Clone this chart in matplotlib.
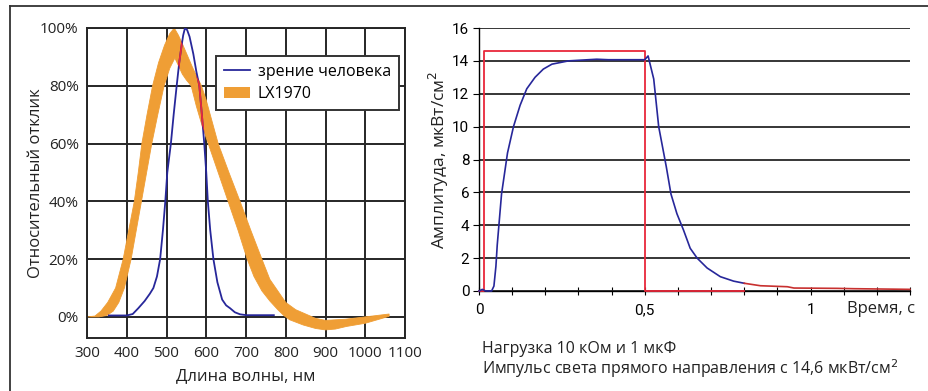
import matplotlib
matplotlib.use("Agg")
import matplotlib.pyplot as plt
from matplotlib.lines import Line2D
from matplotlib.patches import Patch

plt.rcParams['font.family'] = ['Open Sans', 'DejaVu Sans']

# Left chart: spectral response
eye_nm = [355, 400, 415, 429, 445, 458, 467, 476, 484, 491, 497, 502, 511, 518,
          525.6, 532, 538, 542, 546.5, 552, 558, 567.5, 575, 582.6, 589, 595,
          600, 604, 610, 618, 628, 640, 650, 660, 672, 685, 701, 770]
eye_pct = [0.5, 0.5, 1, 3, 5.5, 8, 10, 14, 20, 30, 40, 50, 60, 70,
           80, 88, 94, 97.5, 100, 99.3, 97, 91, 85, 80, 70, 60,
           50, 40, 30, 20, 12, 6, 4, 3, 1.6, 0.9, 0.6, 0.6]

lx_hi_nm = [300, 320, 335, 352, 372, 391, 405, 419, 429, 438, 451, 465, 480, 495,
            508, 519.5, 530, 540, 551, 565, 577, 588, 600, 610, 620, 630, 657,
            685, 712, 740, 760, 780, 800, 825, 850, 875, 900, 950, 1000, 1030, 1060]
lx_hi_pct = [0, 0.3, 2, 5, 10, 20, 30, 40, 50, 60, 70, 80, 88, 94,
             98, 100, 97.5, 94.5, 91, 86.5, 83, 80, 75, 70, 65, 60, 50,
             40, 30, 20, 13, 9, 5, 2.5, 1, -0.5, -1.2, -0.8, 0, 0.5, 1.0]
lx_lo_nm = [300, 330, 350, 366, 380, 394, 411, 424, 437, 450, 463, 478, 494, 508,
            521, 530, 540, 550, 562, 575, 590, 605, 630, 655, 680, 703, 720,
            740, 760, 780, 795, 810, 844, 875, 900, 925, 953, 1000, 1030, 1060]
lx_lo_pct = [0, 0, 0.5, 2, 5, 10, 20, 30, 40, 50, 60, 70, 80, 86,
             89.6, 87, 84, 82, 80, 73, 66, 60, 50, 40, 30, 20, 14,
             9, 5.5, 2.5, 0.5, -1, -2.8, -4, -4.5, -4.2, -3.3, -2.2, -1, 0.2]

nm_ticks = [300, 400, 500, 600, 700, 800, 900, 1000, 1100]
pct_ticks = [0, 20, 40, 60, 80, 100]

# Right chart: pulse response
t_meas = [0, 0.01, 0.02, 0.038, 0.045, 0.051, 0.055, 0.068, 0.086, 0.104, 0.124,
          0.144, 0.169, 0.194, 0.22, 0.245, 0.27, 0.355, 0.39, 0.5, 0.51, 0.527,
          0.542, 0.565, 0.579, 0.597, 0.617, 0.637, 0.658, 0.688, 0.728, 0.768, 0.8]
v_meas = [0, 0.1, 0, 0, 0.3, 1.5, 2.8, 5.9, 8.4, 10, 11.3,
          12.3, 13.0, 13.5, 13.8, 13.9, 14.0, 14.1, 14.07, 14.07, 14.3, 12.9,
          10, 7.55, 5.9, 4.7, 3.7, 2.6, 2.0, 1.4, 0.87, 0.6, 0.47]
t_tail = [0.8, 0.849, 0.93, 0.95, 1.08, 1.13, 1.3]
v_tail = [0.47, 0.32, 0.26, 0.18, 0.16, 0.14, 0.1]
t_pulse = [0, 0.015, 0.015, 0.5, 0.5, 0.8]
v_pulse = [0, 0, 14.6, 14.6, 0, 0]
amp_ticks = [0, 2, 4, 6, 8, 10, 12, 14, 16]
time_ticks = [0, 0.5, 1]
time_labels = ['0', '0,5', '1']

BLUE = '#27279a'
ORANGE = '#ef9e35'
RED = '#e8283a'
GRID = '#262626'

fig = plt.figure(figsize=(9.29, 3.91), dpi=100)

# outer frame lines
fig.add_artist(Line2D([10 / 929, 1], [1 - 6 / 391, 1 - 6 / 391], transform=fig.transFigure,
                      color='#333333', lw=1.3))
fig.add_artist(Line2D([10 / 929, 10 / 929], [0, 1 - 6 / 391], transform=fig.transFigure,
                      color='#333333', lw=1.3))

# ---- left chart
ax1 = fig.add_axes([87 / 929, 1 - 338 / 391, 318 / 929, 310 / 391])
ax1.set_xlim(300, 1100)
ax1.set_ylim(-7.3, 100)
ax1.set_xticks(nm_ticks)
ax1.set_yticks(pct_ticks)
ax1.set_yticklabels([f'{p}%' for p in pct_ticks])
ax1.grid(True, color=GRID, lw=1.4)
ax1.set_axisbelow(True)
ax1.tick_params(length=0, labelsize=11, pad=6, colors='#222222')
for s in ax1.spines.values():
    s.set_color(GRID)
    s.set_linewidth(1.4)

band = ax1.fill(lx_hi_nm + lx_lo_nm[::-1], lx_hi_pct + lx_lo_pct[::-1],
                color=ORANGE, lw=0.6, ec=ORANGE, zorder=2)[0]
ax1.plot(eye_nm, eye_pct, color=BLUE, lw=1.3, zorder=3)
red_part, = ax1.plot(eye_nm, eye_pct, color=RED, lw=1.3, zorder=4)
red_part.set_clip_path(band)

ax1.set_xlabel('Длина волны, нм', fontsize=12, labelpad=5, color='#222222')
ax1.set_ylabel('Относительный отклик', fontsize=12, labelpad=-3, color='#222222')

leg = ax1.legend(handles=[Line2D([], [], color=BLUE, lw=1.3),
                          Patch(facecolor=ORANGE, edgecolor='none')],
                 labels=['зрение человека', 'LX1970'],
                 loc='upper left', bbox_to_anchor=(0.406, 0.91), borderaxespad=0,
                 fontsize=11.5, fancybox=False, framealpha=1, edgecolor='#333333',
                 handlelength=1.6, handletextpad=0.5, borderpad=0.5, labelspacing=0.4)
leg.get_frame().set_linewidth(1.4)

# ---- right chart
ax2 = fig.add_axes([479 / 929, 1 - 291 / 391, 431 / 929, 263 / 391])
ax2.set_xlim(0, 1.3)
ax2.set_ylim(0, 16)
ax2.set_yticks(amp_ticks)
ax2.set_xticks(time_ticks)
ax2.set_xticklabels(time_labels)
ax2.set_xticks([i / 10 for i in range(1, 14)], minor=True)
ax2.yaxis.grid(True, color=GRID, lw=1.3)
ax2.set_axisbelow(True)
for side in ['top', 'right']:
    ax2.spines[side].set_visible(False)
ax2.spines['left'].set_linewidth(1.0)
ax2.spines['bottom'].set_linewidth(1.0)
ax2.tick_params(axis='y', length=4, width=0.8, labelsize=11, pad=3)
ax2.tick_params(axis='x', which='both', direction='inout', length=6, width=0.8,
                labelsize=11, pad=6)
for lab in ax2.get_xticklabels() + ax2.get_yticklabels():
    lab.set_family(['Liberation Sans Narrow', 'Roboto', 'DejaVu Sans'])

ax2.plot(t_pulse, v_pulse, color=RED, lw=1.3, zorder=3, clip_on=False)
ax2.plot(t_meas, v_meas, color=BLUE, lw=1.2, zorder=4, clip_on=False)
ax2.plot(t_tail, v_tail, color='#c8302f', lw=1.2, zorder=4, clip_on=False)

ax2.set_ylabel('Амплитуда, мкВт/см$^2$', fontsize=12.5, labelpad=1, color='#222222')
fig.text(915 / 929, 1 - 309 / 391, 'Время, с', fontsize=12, ha='right', va='center',
         color='#222222')
fig.text(482 / 929, 1 - 349 / 391, 'Нагрузка 10 кОм и 1 мкФ', fontsize=11.5,
         ha='left', va='center', color='#222222')
fig.text(482 / 929, 1 - 369 / 391, 'Импульс света прямого направления с 14,6 мкВт/см$^2$',
         fontsize=11.5, ha='left', va='center', color='#222222')

fig.savefig('out.png', dpi=100)
